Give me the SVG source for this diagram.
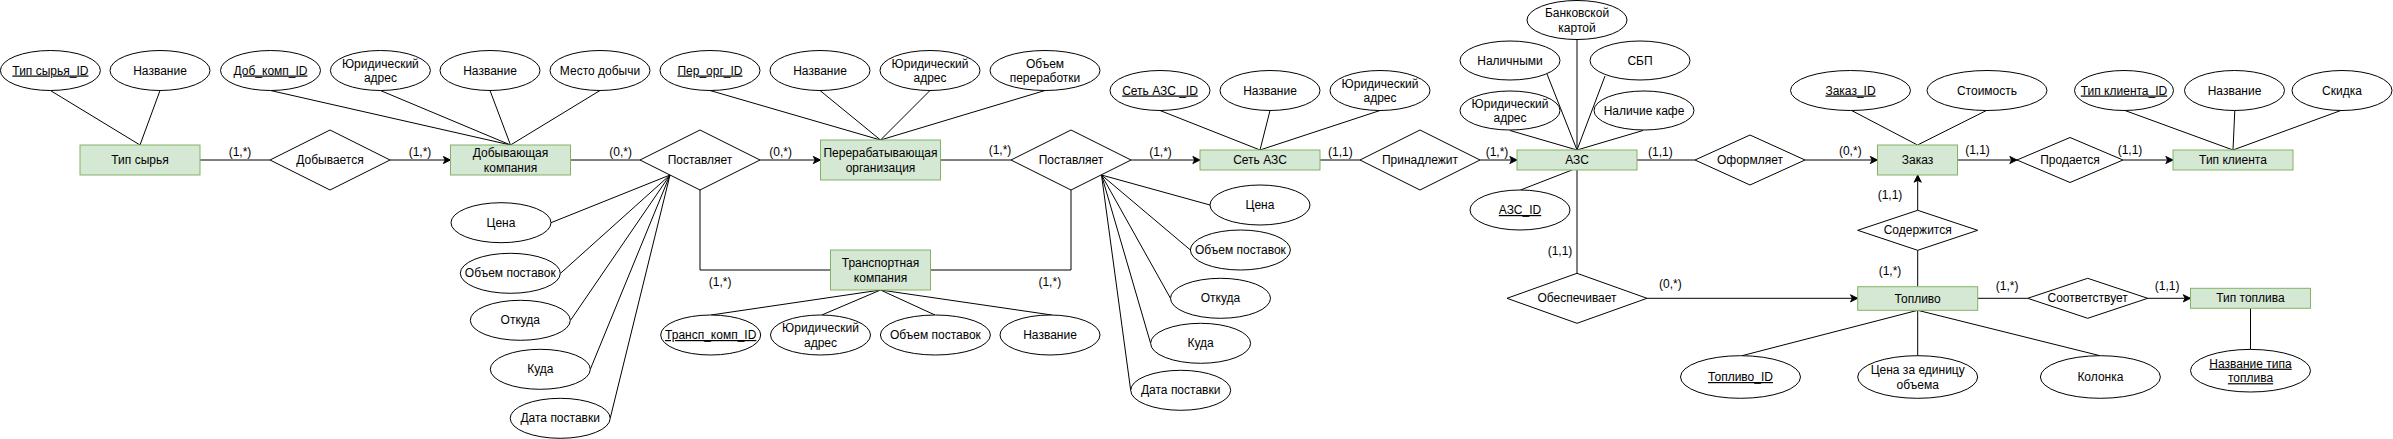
<svg xmlns="http://www.w3.org/2000/svg" width="2393" height="439" viewBox="0 0 2393 439">
<style>
text{font-family:"Liberation Sans",Arial,sans-serif;font-size:12px;fill:#000;text-anchor:middle}
.u{text-decoration:underline}
.ent{fill:#d5e8d4;stroke:#82b366;stroke-width:1}
.att{fill:#fff;stroke:#000;stroke-width:1}
.rel{fill:#fff;stroke:#000;stroke-width:1}
.ln{fill:none;stroke:#000;stroke-width:1}
.ar{fill:none;stroke:#000;stroke-width:1;marker-end:url(#arr)}
</style>
<defs>
<marker id="arr" viewBox="0 0 10 10" refX="9" refY="5" markerWidth="9" markerHeight="9" markerUnits="userSpaceOnUse" orient="auto">
<path d="M1,1 L9,5 L1,9 L3,5 z" fill="#000" stroke="#000" stroke-width="1"/>
</marker>
</defs>
<rect width="2393" height="439" fill="#fff"/>
<g id="connectors">
<!-- relationship lines -->
<path class="ln" d="M200,160 H270"/>
<path class="ar" d="M390,160 H450.5"/>
<path class="ln" d="M570.5,160 H640"/>
<path class="ar" d="M760,160 H820.5"/>
<path class="ln" d="M940.5,160 H1011"/>
<path class="ar" d="M1131,160 H1200"/>
<path class="ln" d="M1320,160 H1360"/>
<path class="ar" d="M1480,160 H1517"/>
<path class="ln" d="M1637,160 H1695"/>
<path class="ar" d="M1805,160 H1877.5"/>
<path class="ar" d="M1957.5,160 H2017"/>
<path class="ar" d="M2123,160 H2173"/>
<path class="ar" d="M1917.7,210.3 V175"/>
<path class="ln" d="M1917.7,250.3 V286.7"/>
<path class="ln" d="M1577,170 V273.3"/>
<path class="ar" d="M1647,298.3 H1857.7"/>
<path class="ln" d="M1977.7,298.3 H2027.7"/>
<path class="ar" d="M2147.7,298.3 H2190.5"/>
<path class="ln" d="M2250.5,308.3 V349.4"/>
<path class="ln" d="M700,190 V270 H830.5"/>
<path class="ln" d="M930.5,270 H1071 V190"/>
<!-- attribute lines -->
<path class="ln" d="M50.4,90.5 L140,145 M160,90.5 L140,145"/>
<path class="ln" d="M270.5,90.5 L510.5,145 M380.4,90.5 L510.5,145 M490,90.5 L510.5,145 M600,90.5 L510.5,145"/>
<path class="ln" d="M710,90.5 L880.5,140 M820,90.5 L880.5,140 M930,90.5 L880.5,140 M1045,90.5 L880.5,140"/>
<path class="ln" d="M1160,110.5 L1260,150 M1270,110.5 L1260,150 M1380,110.5 L1260,150"/>
<path class="ln" d="M1577,40 L1577,150 M1547,74 L1577,150 M1605,76 L1577,150 M1510,130.5 L1577,150 M1643,130.5 L1577,150"/>
<path class="ln" d="M1520.5,190 L1572,170"/>
<path class="ln" d="M880.5,290 L711,315 M880.5,290 L821.8,315 M880.5,290 L935,315 M880.5,290 L1051.8,315"/>
<path class="ln" d="M1851.6,110.5 L1917.5,145 M1986.4,110.5 L1917.5,145"/>
<path class="ln" d="M2125,110.5 L2233,150 M2234.8,110.5 L2233,150 M2340.8,110.5 L2233,150"/>
<path class="ln" d="M1917.7,310.3 L1742,355.7 M1917.7,310.3 L1917.7,355.7 M1917.7,310.3 L2100,355.7"/>
<path class="ln" d="M670,175 L551,222.7 M670,175 L560.5,273.3 M670,175 L570.5,320.3 M670,175 L590.3,369.3 M670,175 L610.2,418.3"/>
<path class="ln" d="M1101.5,175 L1210,205 M1101.5,175 L1190.4,250 M1101.5,175 L1170.5,298.3 M1101.5,175 L1150.6,343.3 M1101.5,175 L1130.7,390.3"/>
<!-- cardinality labels -->
<text x="240" y="156">(1,*)</text>
<text x="420" y="156">(1,*)</text>
<text x="620.6" y="156">(0,*)</text>
<text x="780.7" y="156">(0,*)</text>
<text x="1000" y="154">(1,*)</text>
<text x="1160.5" y="156">(1,*)</text>
<text x="1340.4" y="156">(1,1)</text>
<text x="1497" y="156">(1,*)</text>
<text x="1660.4" y="156">(1,1)</text>
<text x="1850.3" y="154.7">(0,*)</text>
<text x="1977.5" y="154">(1,1)</text>
<text x="2130" y="154">(1,1)</text>
<text x="1890" y="199">(1,1)</text>
<text x="1890" y="274.7">(1,*)</text>
<text x="2007.2" y="290">(1,*)</text>
<text x="2167.2" y="290">(1,1)</text>
<text x="1560" y="255">(1,1)</text>
<text x="1670.4" y="288.3">(0,*)</text>
<text x="720.2" y="285.7">(1,*)</text>
<text x="1049.8" y="285.7">(1,*)</text>
</g>
<!-- entities -->
<g id="tip-syrya"><rect class="ent" x="80" y="145" width="120" height="30"/><text x="140" y="164">Тип сырья</text></g>
<g id="dob-komp"><rect class="ent" x="450.5" y="145" width="120" height="30"/><text x="510.5" y="157">Добывающая</text><text x="510.5" y="171.5">компания</text></g>
<g id="per-org"><rect class="ent" x="820.5" y="140" width="120" height="40"/><text x="880.5" y="157">Перерабатывающая</text><text x="880.5" y="171.5">организация</text></g>
<g id="transp-komp"><rect class="ent" x="830.5" y="250" width="100" height="40"/><text x="880.5" y="267">Транспортная</text><text x="880.5" y="281.5">компания</text></g>
<g id="set-azs"><rect class="ent" x="1200" y="150" width="120" height="20"/><text x="1260" y="164">Сеть АЗС</text></g>
<g id="azs"><rect class="ent" x="1517" y="150" width="120" height="20"/><text x="1577" y="164">АЗС</text></g>
<g id="zakaz"><rect class="ent" x="1877.5" y="145" width="80" height="30"/><text x="1917.5" y="164">Заказ</text></g>
<g id="tip-klienta"><rect class="ent" x="2173" y="150" width="120" height="20"/><text x="2233" y="164">Тип клиента</text></g>
<g id="toplivo"><rect class="ent" x="1857.7" y="286.7" width="120" height="23.6"/><text x="1917.7" y="302.5">Топливо</text></g>
<g id="tip-topliva"><rect class="ent" x="2190.5" y="288.3" width="120" height="20"/><text x="2250.5" y="302.3">Тип топлива</text></g>
<!-- relationships -->
<g id="r-dobyvaetsya"><polygon class="rel" points="270,160 330,130 390,160 330,190"/><text x="330" y="164">Добывается</text></g>
<g id="r-postavlyaet1"><polygon class="rel" points="640,160 700,130 760,160 700,190"/><text x="700" y="164">Поставляет</text></g>
<g id="r-postavlyaet2"><polygon class="rel" points="1011,160 1071,130 1131,160 1071,190"/><text x="1071" y="164">Поставляет</text></g>
<g id="r-prinadlezhit"><polygon class="rel" points="1360,160 1420,130 1480,160 1420,190"/><text x="1420" y="164">Принадлежит</text></g>
<g id="r-oformlyaet"><polygon class="rel" points="1695,160 1750,135 1805,160 1750,185"/><text x="1750" y="164">Оформляет</text></g>
<g id="r-prodaetsya"><polygon class="rel" points="2017,160 2070,137.5 2123,160 2070,182.5"/><text x="2070" y="164">Продается</text></g>
<g id="r-obespechivaet"><polygon class="rel" points="1507,298.3 1577,273.3 1647,298.3 1577,323.3"/><text x="1577" y="302.3">Обеспечивает</text></g>
<g id="r-soderzhitsya"><polygon class="rel" points="1857.7,230.3 1917.7,210.3 1977.7,230.3 1917.7,250.3"/><text x="1917.7" y="234.3">Содержится</text></g>
<g id="r-sootvetstvuet"><polygon class="rel" points="2027.7,298.3 2087.7,278.3 2147.7,298.3 2087.7,318.3"/><text x="2087.7" y="302.3">Соответствует</text></g>
<!-- attributes -->
<g id="a-tip-syrya-id"><ellipse class="att" cx="50.4" cy="70.5" rx="50" ry="20"/><text class="u" x="50.4" y="74.5">Тип сырья_ID</text></g>
<g id="a-tip-syrya-name"><ellipse class="att" cx="160" cy="70.5" rx="50" ry="20"/><text x="160" y="74.5">Название</text></g>
<g id="a-dob-id"><ellipse class="att" cx="270.5" cy="70.5" rx="50" ry="20"/><text class="u" x="270.5" y="74.5">Доб_комп_ID</text></g>
<g id="a-dob-adr"><ellipse class="att" cx="380.4" cy="70.5" rx="50" ry="20"/><text x="380.4" y="67.5">Юридический</text><text x="380.4" y="82">адрес</text></g>
<g id="a-dob-name"><ellipse class="att" cx="490" cy="70.5" rx="50" ry="20"/><text x="490" y="74.5">Название</text></g>
<g id="a-dob-mesto"><ellipse class="att" cx="600" cy="70.5" rx="50" ry="20"/><text x="600" y="74.5">Место добычи</text></g>
<g id="a-per-id"><ellipse class="att" cx="710" cy="70.5" rx="50" ry="20"/><text class="u" x="710" y="74.5">Пер_орг_ID</text></g>
<g id="a-per-name"><ellipse class="att" cx="820" cy="70.5" rx="50" ry="20"/><text x="820" y="74.5">Название</text></g>
<g id="a-per-adr"><ellipse class="att" cx="930" cy="70.5" rx="50" ry="20"/><text x="930" y="67.5">Юридический</text><text x="930" y="82">адрес</text></g>
<g id="a-per-obem"><ellipse class="att" cx="1045" cy="70.5" rx="55" ry="20"/><text x="1045" y="67.5">Объем</text><text x="1045" y="82">переработки</text></g>
<g id="a-p1-cena"><ellipse class="att" cx="501" cy="222.7" rx="50" ry="20"/><text x="501" y="226.7">Цена</text></g>
<g id="a-p1-obem"><ellipse class="att" cx="510.3" cy="273.3" rx="50" ry="20"/><text x="510.3" y="277.3">Объем поставок</text></g>
<g id="a-p1-otkuda"><ellipse class="att" cx="520.3" cy="320.3" rx="50" ry="20"/><text x="520.3" y="324.3">Откуда</text></g>
<g id="a-p1-kuda"><ellipse class="att" cx="540.3" cy="369.3" rx="50" ry="20"/><text x="540.3" y="373.3">Куда</text></g>
<g id="a-p1-data"><ellipse class="att" cx="560.2" cy="418.3" rx="50" ry="20"/><text x="560.2" y="422.3">Дата поставки</text></g>
<g id="a-tr-id"><ellipse class="att" cx="710.7" cy="335" rx="50" ry="20"/><text class="u" x="710.7" y="339">Трансп_комп_ID</text></g>
<g id="a-tr-adr"><ellipse class="att" cx="820.5" cy="335" rx="50" ry="20"/><text x="820.5" y="332">Юридический</text><text x="820.5" y="346.5">адрес</text></g>
<g id="a-tr-obem"><ellipse class="att" cx="935.4" cy="335" rx="55" ry="20"/><text x="935.4" y="339">Объем поставок</text></g>
<g id="a-tr-name"><ellipse class="att" cx="1050" cy="335" rx="50" ry="20"/><text x="1050" y="339">Название</text></g>
<g id="a-set-id"><ellipse class="att" cx="1160" cy="90.5" rx="50" ry="20"/><text class="u" x="1160" y="94.5">Сеть АЗС _ID</text></g>
<g id="a-set-name"><ellipse class="att" cx="1270" cy="90.5" rx="50" ry="20"/><text x="1270" y="94.5">Название</text></g>
<g id="a-set-adr"><ellipse class="att" cx="1380" cy="90.5" rx="50" ry="20"/><text x="1380" y="87.5">Юридический</text><text x="1380" y="102">адрес</text></g>
<g id="a-p2-cena"><ellipse class="att" cx="1260" cy="205" rx="50" ry="20"/><text x="1260" y="209">Цена</text></g>
<g id="a-p2-obem"><ellipse class="att" cx="1240.4" cy="250" rx="50" ry="20"/><text x="1240.4" y="254">Объем поставок</text></g>
<g id="a-p2-otkuda"><ellipse class="att" cx="1220.5" cy="298.3" rx="50" ry="20"/><text x="1220.5" y="302.3">Откуда</text></g>
<g id="a-p2-kuda"><ellipse class="att" cx="1200.6" cy="343.3" rx="50" ry="20"/><text x="1200.6" y="347.3">Куда</text></g>
<g id="a-p2-data"><ellipse class="att" cx="1180.7" cy="390.3" rx="50" ry="20"/><text x="1180.7" y="394.3">Дата поставки</text></g>
<g id="a-azs-bank"><ellipse class="att" cx="1577" cy="20" rx="50" ry="19.5"/><text x="1577" y="17">Банковской</text><text x="1577" y="31.5">картой</text></g>
<g id="a-azs-nal"><ellipse class="att" cx="1510" cy="60.5" rx="50" ry="19.5"/><text x="1510" y="64.5">Наличными</text></g>
<g id="a-azs-sbp"><ellipse class="att" cx="1640" cy="60.5" rx="50" ry="19.5"/><text x="1640" y="64.5">СБП</text></g>
<g id="a-azs-adr"><ellipse class="att" cx="1510" cy="110.5" rx="50" ry="19.5"/><text x="1510" y="107.5">Юридический</text><text x="1510" y="122">адрес</text></g>
<g id="a-azs-kafe"><ellipse class="att" cx="1644" cy="110.5" rx="50" ry="19.5"/><text x="1644" y="114.5">Наличие кафе</text></g>
<g id="a-azs-id"><ellipse class="att" cx="1520" cy="210" rx="50" ry="20"/><text class="u" x="1520" y="214">АЗС_ID</text></g>
<g id="a-zakaz-id"><ellipse class="att" cx="1850.5" cy="90.5" rx="60" ry="20"/><text class="u" x="1850.5" y="94.5">Заказ_ID</text></g>
<g id="a-zakaz-cost"><ellipse class="att" cx="1987" cy="90.5" rx="60" ry="20"/><text x="1987" y="94.5">Стоимость</text></g>
<g id="a-kl-id"><ellipse class="att" cx="2124" cy="90.5" rx="49.5" ry="20"/><text class="u" x="2124" y="94.5">Тип клиента_ID</text></g>
<g id="a-kl-name"><ellipse class="att" cx="2234.5" cy="90.5" rx="50" ry="20"/><text x="2234.5" y="94.5">Название</text></g>
<g id="a-kl-skidka"><ellipse class="att" cx="2342" cy="90.5" rx="50" ry="20"/><text x="2342" y="94.5">Скидка</text></g>
<g id="a-top-id"><ellipse class="att" cx="1740.5" cy="377" rx="60" ry="21.3"/><text class="u" x="1740.5" y="381">Топливо_ID</text></g>
<g id="a-top-cena"><ellipse class="att" cx="1917.7" cy="377" rx="60" ry="21.3"/><text x="1917.7" y="374">Цена за единицу</text><text x="1917.7" y="388.5">объема</text></g>
<g id="a-top-kolonka"><ellipse class="att" cx="2100.4" cy="377" rx="60" ry="21.3"/><text x="2100.4" y="381">Колонка</text></g>
<g id="a-tt-name"><ellipse class="att" cx="2250.5" cy="370.7" rx="60" ry="21.3"/><text class="u" x="2250.5" y="367.7">Название типа</text><text class="u" x="2250.5" y="382.2">топлива</text></g>
</svg>
